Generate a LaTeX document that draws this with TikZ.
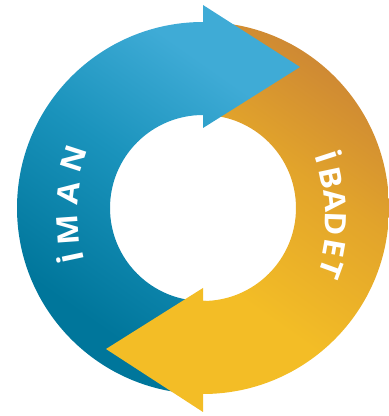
\documentclass[tikz,border=0pt]{standalone}
\usepackage{fontspec}
\setmainfont{Open Sans}[FakeStretch=1.1]
\definecolor{arrowyellow}{HTML}{F3BD26}
\definecolor{orangedark}{HTML}{CF8A33}
\definecolor{orangemid}{HTML}{E2A42B}
\definecolor{bluelight}{HTML}{3FABD6}
\definecolor{bluemid}{HTML}{1A93BC}
\definecolor{bluedark}{HTML}{00769B}
\pgfdeclareverticalshading{bluegrad}{100bp}{color(0bp)=(bluedark);color(30bp)=(bluedark);color(52bp)=(bluemid);color(70bp)=(bluelight);color(100bp)=(bluelight)}
\pgfdeclareverticalshading{orangegrad}{100bp}{color(0bp)=(arrowyellow);color(32bp)=(arrowyellow);color(55bp)=(orangemid);color(72bp)=(orangedark);color(100bp)=(orangedark)}
\tikzset{
  letter/.style={text=white,font=\fontsize{29.5}{30}\selectfont\bfseries,inner sep=0pt},
}
\begin{document}
\begin{tikzpicture}[x=1pt,y=1pt]
\useasboundingbox (0,0) rectangle (389,416);
% orange half ring
\shade[shading=orangegrad,shading angle=-35]
  (203,394) arc (90:-90:186pt) -- (203,115) arc (-90:90:93pt) -- cycle;
% blue ring and arrow
\shade[shading=bluegrad,shading angle=-35]
  (203,22) arc (270:90:186pt) -- (203,411) -- (300,349) -- (203,288) -- (203,301)
  arc (90:270:93pt) -- cycle;
% yellow arrow
\fill[arrowyellow] (203,4) -- (106,67) -- (203,128) -- (203,115) -- (206,115) -- (206,22) -- (203,22) -- cycle;
% letters
\node[letter,rotate=102] (i1) at (70,158) {İ};
\node[letter,rotate=94] (m1) at (68,186) {M};
\node[letter,rotate=83] (a1) at (68,223) {A};
\node[letter,rotate=72] (n1) at (73.5,257) {N};
\node[letter,rotate=-72] (i2) at (329,260) {İ};
\node[letter,rotate=-78] (b2) at (331,238) {B};
\node[letter,rotate=-84] (a2) at (335,215) {A};
\node[letter,rotate=-92] (d2) at (336,192) {D};
\node[letter,rotate=-100] (e2) at (334,168) {E};
\node[letter,rotate=-110] (t2) at (331,147) {T};
\end{tikzpicture}
\end{document}
